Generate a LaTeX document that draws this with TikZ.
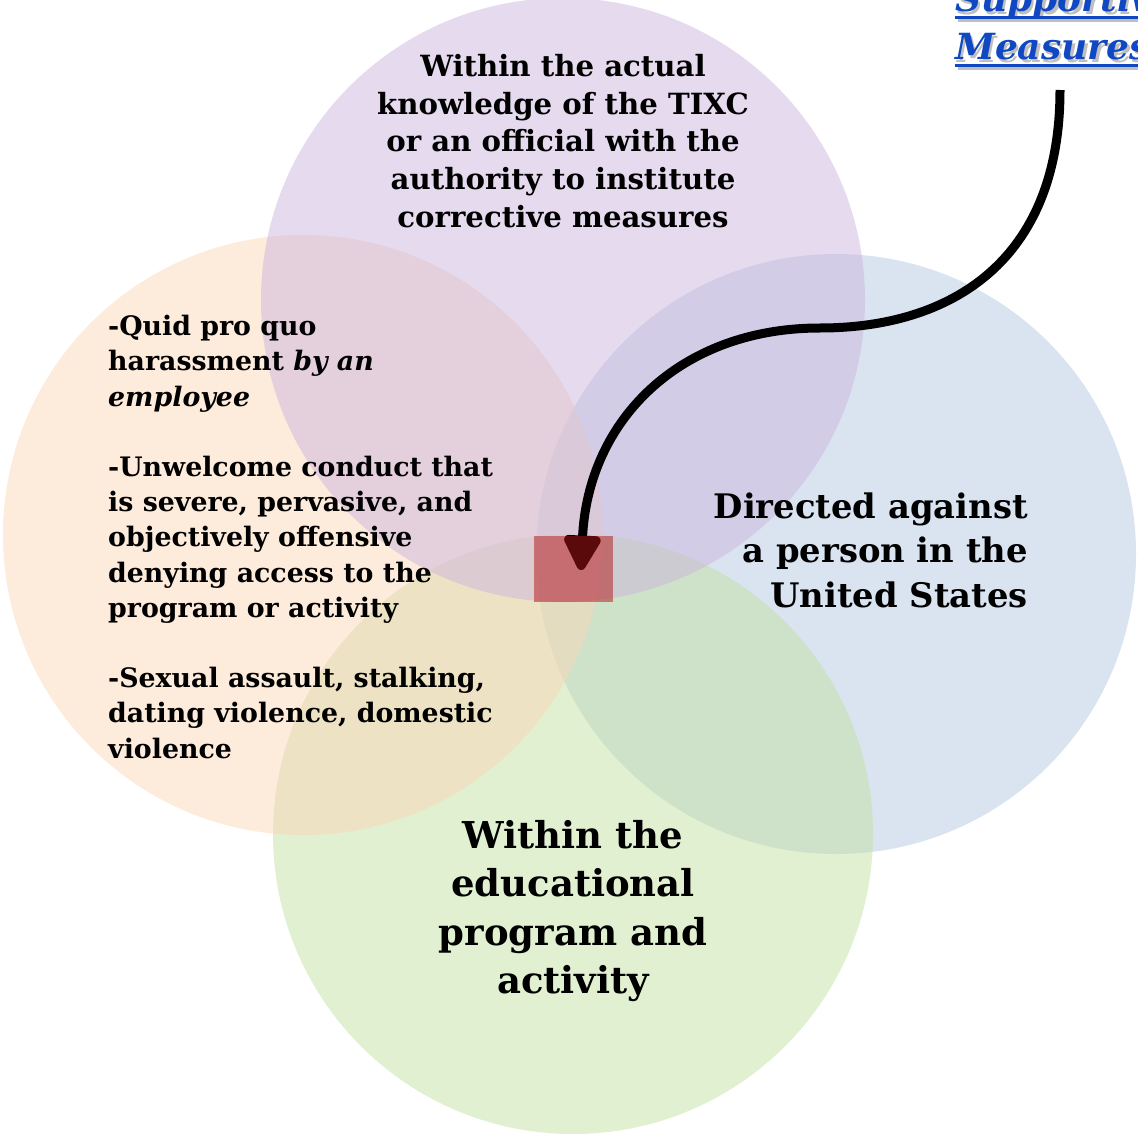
\documentclass[tikz,border=0pt]{standalone}
\usepackage{fontspec}
\setmainfont{DejaVu Serif}
\usetikzlibrary{arrows.meta}
\definecolor{cpurple}{RGB}{203,181,221}
\definecolor{corange}{RGB}{251,215,185}
\definecolor{cblue}{RGB}{181,199,225}
\definecolor{cgreen}{RGB}{193,225,161}
\definecolor{csq}{RGB}{180,20,20}
\definecolor{cmeas}{RGB}{16,72,196}
\tikzset{
  venn/.style={fill opacity=0.5, draw=none},
  lbl/.style={inner sep=0pt, font=\bfseries},
  meas/.style={inner sep=0pt, text=cmeas, font=\fontsize{36}{40}\selectfont\bfseries\itshape},
  measshadow/.style={inner sep=0pt, text=black!25, font=\fontsize{36}{40}\selectfont\bfseries\itshape},
  flow/.style={line width=9pt, -{Triangle[length=40pt,width=40pt,round]}},
  sqbox/.style={fill=csq, fill opacity=0.5, draw=none, inner sep=0pt, minimum width=79pt, minimum height=66pt}
}
\begin{document}
\begin{tikzpicture}[x=1pt,y=-1pt]
\useasboundingbox (0,0) rectangle (1138,1134);
% circles
\fill[venn, fill=cblue]   (836,554) circle (300);
\fill[venn, fill=cgreen]  (573,834) circle (300);
\fill[venn, fill=corange] (303,535) circle (300);
\fill[venn, fill=cpurple] (563,300) circle (302);
% texts
\node[lbl, align=center, font=\fontsize{29.2}{37.8}\selectfont\bfseries] (know) at (563,141)
  {Within the actual\\knowledge of the TIXC\\or an official with the\\authority to institute\\corrective measures};
\node[lbl, align=left, anchor=west, font=\fontsize{26.8}{35.2}\selectfont\bfseries] (types) at (108,537)
  {-Quid pro quo\\harassment \textit{by an}\\\textit{employee}\\[35.2pt]-Unwelcome conduct that\\is severe, pervasive, and\\objectively offensive\\denying access to the\\program or activity\\[35.2pt]-Sexual assault, stalking,\\dating violence, domestic\\violence};
\node[lbl, align=right, anchor=east, font=\fontsize{33.8}{44.5}\selectfont\bfseries] (person) at (1028,550)
  {Directed against\\a person in the\\United States};
\node[lbl, align=center, font=\fontsize{37}{48.5}\selectfont\bfseries] (prog) at (573,911)
  {Within the\\educational\\program and\\activity};
% Supportive Measures (cut off at the edge)
\node[measshadow, anchor=base west] at (957.5,14.5) {Supportive};
\node[measshadow, anchor=base west] at (957.5,62.5) {Measures};
\fill[black!25] (957.5,19) rectangle (1170,22);
\fill[black!25] (957.5,67) rectangle (1170,70);
\node[meas, anchor=base west] (sup1) at (955,12) {Supportive};
\node[meas, anchor=base west] (sup2) at (955,60) {Measures};
\fill[cmeas] (sup1.base west) ++(0,4) rectangle ++(215,3);
\fill[cmeas] (sup2.base west) ++(0,4) rectangle ++(215,3);
% arrow
\coordinate (start) at (1060,90);
\coordinate (bend) at (820,328);
\coordinate (tip) at (581,570);
\draw[flow] (start) .. controls (1060,262) and (950,328) .. (bend)
  .. controls (680,328) and (588,420) .. (tip);
% red square
\node[sqbox] (sq) at (573.5,569) {};
\end{tikzpicture}
\end{document}
